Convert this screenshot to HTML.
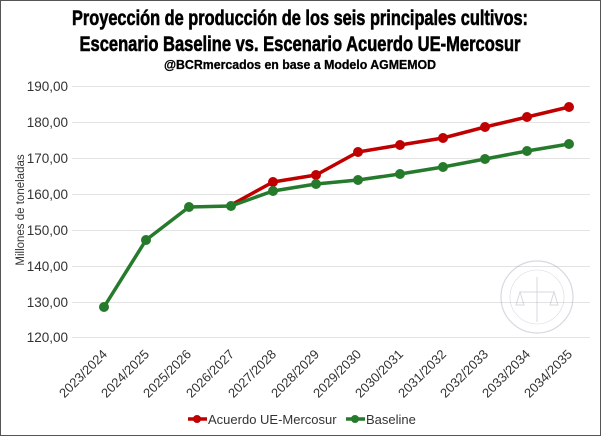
<!DOCTYPE html>
<html><head><meta charset="utf-8"><style>
html,body{margin:0;padding:0;background:#fff}
svg{display:block}
</style></head><body>
<svg width="601" height="436" viewBox="0 0 601 436" xmlns="http://www.w3.org/2000/svg" font-family="Liberation Sans, sans-serif">
<rect x="0.5" y="0.5" width="600" height="435" fill="#fff" stroke="#555" stroke-width="1"/>
<g font-family="Liberation Sans Narrow, Liberation Sans, sans-serif" font-weight="bold" fill="#000" stroke="#000" text-anchor="middle">
<text x="300" y="25" font-size="21" stroke-width="0.6" textLength="456" lengthAdjust="spacingAndGlyphs">Proyección de producción de los seis principales cultivos:</text>
<text x="300" y="51" font-size="21" stroke-width="0.6" textLength="441" lengthAdjust="spacingAndGlyphs">Escenario Baseline vs. Escenario Acuerdo UE-Mercosur</text>
<text x="300" y="69" font-size="13" stroke-width="0.3" textLength="272" lengthAdjust="spacingAndGlyphs">@BCRmercados en base a Modelo AGMEMOD</text>
</g>
<g stroke="#e3e3e3" stroke-width="1">
<line x1="72" x2="590" y1="86.5" y2="86.5"/><line x1="72" x2="590" y1="122.5" y2="122.5"/><line x1="72" x2="590" y1="158.5" y2="158.5"/><line x1="72" x2="590" y1="194.5" y2="194.5"/><line x1="72" x2="590" y1="230.5" y2="230.5"/><line x1="72" x2="590" y1="266.5" y2="266.5"/><line x1="72" x2="590" y1="302.5" y2="302.5"/><line x1="72" x2="590" y1="337.5" y2="337.5"/>
</g>
<g font-size="13.5" fill="#333" text-anchor="end">
<text x="68" y="91">190,00</text><text x="68" y="127">180,00</text><text x="68" y="163">170,00</text><text x="68" y="199">160,00</text><text x="68" y="235">150,00</text><text x="68" y="271">140,00</text><text x="68" y="307">130,00</text><text x="68" y="342">120,00</text>
</g>
<text transform="translate(24,210) rotate(-90)" text-anchor="middle" font-size="11.5" fill="#333">Millones de toneladas</text>
<g opacity="0.35" fill="none" stroke="#8a95a8">
<circle cx="537" cy="297" r="36" stroke-width="1.2"/>
<circle cx="537" cy="297" r="27" stroke-width="0.6"/>
<line x1="537" y1="277" x2="537" y2="322"/>
<line x1="520" y1="292" x2="554" y2="292"/>
<path d="M516 305 l4 -13 l4 13 z M550 305 l4 -13 l4 13 z"/>
</g>
<g font-size="13" fill="#333" text-anchor="end">
<text transform="translate(108,355) rotate(-45)">2023/2024</text>
<text transform="translate(150,355) rotate(-45)">2024/2025</text>
<text transform="translate(192,355) rotate(-45)">2025/2026</text>
<text transform="translate(235,355) rotate(-45)">2026/2027</text>
<text transform="translate(277,355) rotate(-45)">2027/2028</text>
<text transform="translate(320,355) rotate(-45)">2028/2029</text>
<text transform="translate(362,355) rotate(-45)">2029/2030</text>
<text transform="translate(404,355) rotate(-45)">2030/2031</text>
<text transform="translate(447,355) rotate(-45)">2031/2032</text>
<text transform="translate(489,355) rotate(-45)">2032/2033</text>
<text transform="translate(531,355) rotate(-45)">2033/2034</text>
<text transform="translate(573,355) rotate(-45)">2034/2035</text>
</g>
<g fill="#c00000" stroke="#c00000">
<polyline fill="none" stroke-width="3.5" stroke-linejoin="round" points="231,205 273,182 316,175 358,152 400,145 443,138 485,127 527,117 569,107"/>
<circle cx="273" cy="182" r="4.5"/><circle cx="316" cy="175" r="4.5"/><circle cx="358" cy="152" r="4.5"/><circle cx="400" cy="145" r="4.5"/><circle cx="443" cy="138" r="4.5"/><circle cx="485" cy="127" r="4.5"/><circle cx="527" cy="117" r="4.5"/><circle cx="569" cy="107" r="4.5"/>
</g>
<g fill="#267a2c" stroke="#267a2c">
<polyline fill="none" stroke-width="3.5" stroke-linejoin="round" points="104,307 146,240 189,207 231,206 273,191 316,184 358,180 400,174 443,167 485,159 527,151 569,144"/>
<circle cx="104" cy="307" r="4.5"/><circle cx="146" cy="240" r="4.5"/><circle cx="189" cy="207" r="4.5"/><circle cx="231" cy="206" r="4.5"/><circle cx="273" cy="191" r="4.5"/><circle cx="316" cy="184" r="4.5"/><circle cx="358" cy="180" r="4.5"/><circle cx="400" cy="174" r="4.5"/><circle cx="443" cy="167" r="4.5"/><circle cx="485" cy="159" r="4.5"/><circle cx="527" cy="151" r="4.5"/><circle cx="569" cy="144" r="4.5"/>
</g>
<line x1="188" y1="419" x2="207" y2="419" stroke="#c00000" stroke-width="3.5"/><circle cx="197" cy="419" r="4" fill="#c00000"/>
<text x="208" y="424" font-size="13" fill="#333">Acuerdo UE-Mercosur</text>
<line x1="346" y1="419" x2="365" y2="419" stroke="#267a2c" stroke-width="3.5"/><circle cx="355" cy="419" r="4" fill="#267a2c"/>
<text x="366" y="424" font-size="13" fill="#333">Baseline</text>
</svg>
</body></html>
